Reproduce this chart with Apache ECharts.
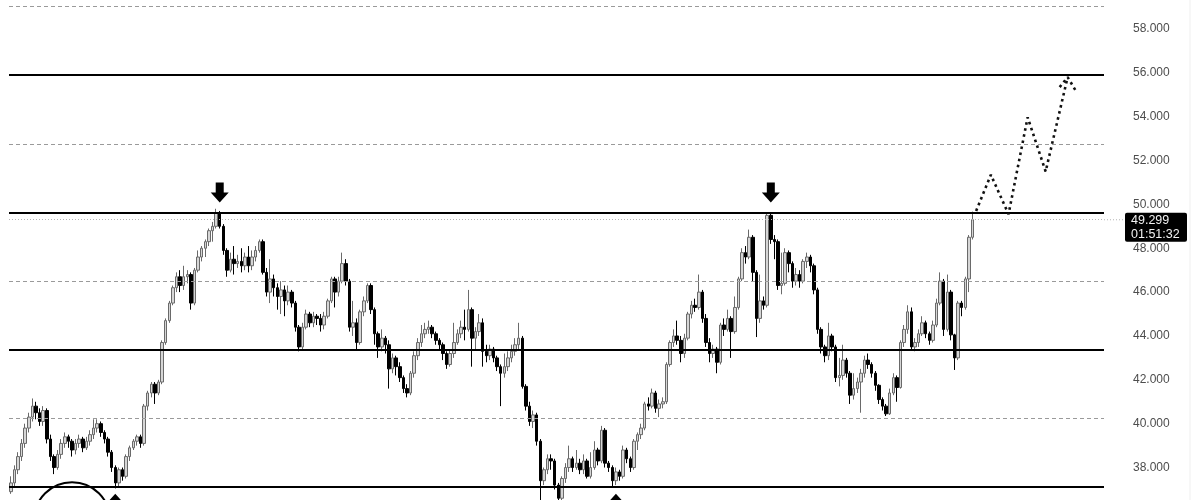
<!DOCTYPE html>
<html>
<head>
<meta charset="utf-8">
<script src="https://cdn.jsdelivr.net/npm/echarts@6/dist/echarts.min.js"></script>
<style>
html,body{margin:0;padding:0;background:#fff;}
#chart{width:1200px;height:500px;}
</style>
</head>
<body>
<div id="chart"></div>
<script>
// ---- data: [open, close, low, high] per candle ----
const candles = [
[36.9,37.3,36.8,37.6],[37.3,37.9,37.1,38.1],[37.9,38.5,37.7,38.7],[38.5,39.1,38.3,39.3],[39.1,39.8,38.9,40.0],
[39.8,40.3,39.6,40.5],[40.3,40.8,40.1,41.15],[40.8,40.5,40.2,41.0],[40.5,40.1,39.9,40.7],[40.1,40.6,39.9,40.8],
[40.6,39.3,39.1,40.7],[39.3,38.5,38.3,39.5],[38.5,38.0,37.7,38.6],[38.0,38.6,37.9,38.8],[38.6,39.1,38.4,39.3],
[39.1,39.4,38.9,39.6],[39.4,39.2,38.9,39.5],[39.2,38.8,38.5,39.3],[38.8,39.1,38.6,39.3],[39.1,39.3,38.9,39.5],
[39.3,38.9,38.7,39.4],[38.9,39.2,38.8,39.4],[39.2,39.5,39.0,39.7],[39.5,39.8,39.3,40.2],[39.8,40.0,39.6,40.2],
[40.0,39.6,39.4,40.1],[39.6,39.3,39.1,39.7],[39.3,38.7,38.5,39.4],[38.7,38.0,37.8,38.8],[38.0,37.3,37.05,38.1],
[37.3,37.9,37.1,38.0],[37.9,37.6,37.4,38.0],[37.6,38.5,37.5,38.6],[38.5,38.9,38.3,39.0],[38.9,39.2,38.8,39.3],
[39.2,39.4,39.0,39.5],[39.4,39.1,38.9,39.5],[39.1,40.8,39.0,40.9],[40.8,41.4,40.6,41.5],[41.4,41.8,41.2,41.9],
[41.8,41.4,40.9,41.9],[41.4,41.9,41.3,42.0],[41.9,43.7,41.8,43.8],[43.7,44.7,43.6,44.8],[44.7,45.5,44.6,45.6],
[45.5,46.2,45.4,46.3],[46.2,46.7,46.0,46.9],[46.7,46.3,46.0,47.0],[46.3,46.7,46.1,47.2],[46.7,46.8,46.4,47.0],
[46.8,45.5,45.2,46.9],[45.5,47.0,45.4,47.1],[47.0,47.6,46.9,47.9],[47.6,48.0,47.4,48.1],[48.0,48.3,47.6,48.4],
[48.3,48.8,48.1,48.9],[48.8,49.0,48.3,49.2],[49.0,49.6,48.9,49.8],[49.6,49.0,48.9,49.7],[49.0,47.9,47.7,49.1],
[47.9,47.0,46.7,48.0],[47.0,47.5,46.9,47.8],[47.5,47.3,46.8,48.1],[47.3,47.4,47.1,47.7],[47.4,47.2,46.9,48.0],
[47.2,47.6,47.0,47.8],[47.6,47.2,46.9,48.1],[47.2,47.6,47.0,47.9],[47.6,47.9,47.4,48.1],[47.9,48.3,47.8,48.4],
[48.3,46.9,46.8,48.4],[46.9,46.0,45.8,47.1],[46.0,46.6,45.5,47.5],[46.6,46.2,45.8,46.8],[46.2,45.8,45.2,46.4],
[45.8,46.1,45.0,46.5],[46.1,45.6,44.9,46.3],[45.6,46.0,45.4,46.3],[46.0,45.5,45.3,46.1],[45.5,44.4,44.2,45.6],
[44.4,43.5,43.3,44.5],[43.5,44.4,43.4,44.6],[44.4,45.0,44.3,45.2],[45.0,44.6,44.4,45.1],[44.6,44.9,44.4,45.1],
[44.9,44.8,44.5,45.0],[44.8,44.5,44.2,45.0],[44.5,44.9,44.3,45.1],[44.9,45.6,44.8,45.7],[45.6,46.6,45.5,46.7],
[46.6,46.0,45.3,46.7],[46.0,46.5,45.8,46.7],[46.5,47.3,46.4,47.8],[47.3,46.5,46.3,47.5],[46.5,44.4,44.2,46.6],
[44.4,44.6,44.0,45.6],[44.6,43.7,43.4,44.8],[43.7,45.1,43.6,45.2],[45.1,45.6,44.9,45.8],[45.6,46.3,45.5,46.4],
[46.3,45.2,45.0,46.4],[45.2,44.1,43.6,45.3],[44.1,43.5,43.0,44.2],[43.5,43.9,43.3,44.3],[43.9,43.6,43.2,44.0],
[43.6,42.5,41.6,43.8],[42.5,43.0,42.3,43.2],[43.0,42.6,42.2,43.1],[42.6,42.1,41.9,42.8],[42.1,41.6,41.4,42.2],
[41.6,41.4,41.2,41.8],[41.4,42.3,41.3,42.4],[42.3,43.1,42.1,43.3],[43.1,43.7,42.9,43.9],[43.7,44.1,43.5,44.5],
[44.1,44.3,43.9,44.6],[44.3,44.4,44.1,44.7],[44.4,44.1,43.9,44.5],[44.1,43.8,43.6,44.2],[43.8,43.6,43.4,43.9],
[43.6,43.2,42.9,43.7],[43.2,42.7,42.5,43.3],[42.7,43.2,42.6,43.4],[43.2,43.7,43.0,44.6],[43.7,44.1,43.6,44.3],
[44.1,44.4,43.9,44.7],[44.4,44.3,43.8,45.2],[44.3,45.2,44.2,46.1],[45.2,43.9,42.6,45.3],[43.9,44.2,43.4,44.4],
[44.2,44.6,44.0,45.0],[44.6,43.3,42.6,44.8],[43.3,43.1,42.8,43.6],[43.1,43.4,42.9,43.6],[43.4,43.0,42.8,43.5],
[43.0,42.6,42.4,43.1],[42.6,42.3,40.8,42.7],[42.3,42.6,42.1,43.2],[42.6,43.0,42.4,43.3],[43.0,43.3,42.8,43.6],
[43.3,43.6,43.1,43.9],[43.6,43.9,43.4,44.6],[43.9,41.7,41.6,44.0],[41.7,40.8,40.6,41.8],[40.8,40.1,39.9,41.0],
[40.1,40.4,39.8,40.6],[40.4,39.2,39.0,40.5],[39.2,37.4,36.5,39.3],[37.4,37.9,37.2,38.0],[37.9,38.4,37.7,38.6],
[38.4,38.3,37.9,38.6],[38.3,37.2,37.0,38.4],[37.2,36.6,36.3,37.3],[36.6,37.5,36.4,37.6],[37.5,38.0,37.3,38.2],
[38.0,38.4,37.8,39.0],[38.4,38.0,37.8,38.5],[38.0,38.2,37.9,38.8],[38.2,37.9,37.7,38.4],[37.9,38.3,37.7,38.6],
[38.3,37.6,37.5,38.4],[37.6,38.0,37.5,38.7],[38.0,38.8,37.9,39.2],[38.8,38.3,38.1,38.9],[38.3,39.7,38.2,39.9],
[39.7,38.2,38.0,39.8],[38.2,38.0,37.8,38.3],[38.0,37.4,37.1,38.1],[37.4,37.8,37.2,38.0],[37.8,37.6,37.4,37.9],
[37.6,38.8,37.5,39.0],[38.8,38.4,38.2,38.9],[38.4,38.0,37.8,38.5],[38.0,39.2,37.9,39.3],[39.2,39.5,38.8,39.6],
[39.5,39.8,39.3,40.0],[39.8,40.9,39.7,41.0],[40.9,40.8,40.6,41.2],[40.8,41.4,40.7,41.6],[41.4,40.7,40.5,41.5],
[40.7,40.9,40.3,41.1],[40.9,41.0,40.7,41.2],[41.0,42.7,40.9,42.8],[42.7,43.7,42.6,43.8],[43.7,44.0,43.5,44.3],
[44.0,43.8,43.6,44.7],[43.8,43.2,42.8,44.0],[43.2,43.9,43.0,44.1],[43.9,45.0,43.8,45.1],[45.0,45.4,44.8,45.6],
[45.4,45.3,45.1,45.7],[45.3,46.0,45.2,46.8],[46.0,44.8,44.6,46.1],[44.8,43.7,43.5,45.0],[43.7,43.2,42.8,43.9],
[43.2,43.4,43.0,43.6],[43.4,42.8,42.3,43.5],[42.8,44.5,42.7,44.6],[44.5,44.3,44.0,44.8],[44.3,44.8,44.2,45.2],
[44.8,44.2,43.0,44.9],[44.2,45.3,44.1,45.8],[45.3,46.6,45.2,46.7],[46.6,47.8,46.5,48.0],[47.8,47.6,47.3,48.1],
[47.6,48.5,47.5,48.85],[48.5,46.9,46.5,48.6],[46.9,44.8,43.95,47.0],[44.8,45.6,44.6,46.8],[45.6,45.4,45.2,45.8],
[45.4,49.5,45.3,49.65],[49.5,48.4,48.2,49.6],[48.4,48.3,47.5,48.6],[48.3,46.3,46.1,48.4],[46.3,46.4,45.9,47.8],
[46.4,47.8,46.3,48.0],[47.8,47.3,46.9,47.9],[47.3,46.5,46.2,47.4],[46.5,46.8,46.3,47.1],[46.8,46.5,46.2,47.0],
[46.5,47.4,46.4,47.5],[47.4,47.6,47.1,47.8],[47.6,47.2,46.9,47.7],[47.2,46.1,45.9,47.3],[46.1,44.3,44.1,46.2],
[44.3,43.5,43.2,44.4],[43.5,43.1,42.8,43.6],[43.1,44.0,42.9,44.6],[44.0,43.5,43.3,44.1],[43.5,42.1,41.9,43.6],
[42.1,42.2,41.7,43.0],[42.2,42.9,42.0,43.6],[42.9,42.3,42.1,43.0],[42.3,41.3,40.9,42.4],[41.3,41.6,41.1,42.3],
[41.6,41.9,41.4,42.1],[41.9,42.3,40.5,42.5],[42.3,42.9,42.1,43.1],[42.9,42.7,42.5,43.2],[42.7,42.3,42.1,42.8],
[42.3,41.75,41.5,42.4],[41.75,41.1,40.9,41.8],[41.1,40.8,40.6,41.2],[40.8,40.45,40.35,40.9],[40.45,41.4,40.4,41.6],
[41.4,42.1,41.3,42.3],[42.1,41.65,41.0,42.2],[41.65,43.7,41.6,43.8],[43.7,44.3,43.5,44.5],[44.3,45.1,44.1,45.4],
[45.1,43.5,43.4,45.3],[43.5,43.7,43.3,43.9],[43.7,44.1,43.5,44.3],[44.1,44.6,44.0,44.9],[44.6,44.1,43.9,44.7],
[44.1,43.8,43.6,44.2],[43.8,44.5,43.7,44.7],[44.5,45.5,44.4,45.7],[45.5,46.5,45.4,46.9],[46.5,44.3,44.0,46.6],
[44.3,46.0,44.2,46.8],[46.0,44.05,43.8,46.1],[44.05,43.0,42.45,44.1],[43.0,45.5,42.9,45.6],[45.5,45.3,44.9,45.6],
[45.3,46.6,45.2,46.7],[46.6,48.5,46.0,48.6],[48.5,49.3,48.4,49.67]
];
const slotCount = 304;                       // time slots incl. empty future area
const categories = Array.from({length: slotCount}, (_, i) => 'T' + i);

const solidLevels  = [37.12, 43.36, 49.61, 55.90];
const dashedLevels = [40.25, 46.51, 52.76, 59.05];
const lastPrice = 49.299;
const lastTime  = '01:51:32';
const yTicks = [38, 40, 42, 44, 46, 48, 50, 52, 54, 56, 58];

// projected path [slot, price]
const projection = [[268, 49.70], [272.1, 51.35], [277.0, 49.55], [282.3, 53.97], [287.3, 51.50], [293.4, 55.80]];
const projectionHead = [[291.2, 55.35], [293.4, 55.80], [295.6, 55.20]];

// annotations [slot, price]
const downArrows = [[58, 50.54], [211, 50.54]];
const upArrows   = [[29, 36.35], [168, 36.35]];
const circleMark = [17, 35.6];
const circleRadius = 38;

const DOWN = 'path://M5,0 L13,0 L13,10 L18,10 L9,20 L0,10 L5,10 Z';

const chart = echarts.init(document.getElementById('chart'), null, {renderer: 'canvas'});
const FONT = 'Liberation Sans';

const markLines = [];
solidLevels.forEach(v => markLines.push({yAxis: v, lineStyle: {color: '#000', width: 2, type: 'solid'}}));
dashedLevels.forEach(v => markLines.push({yAxis: v, lineStyle: {color: '#9a9a9a', width: 1, type: [4, 3]}}));
markLines.push({yAxis: lastPrice, lineStyle: {color: '#b5b5b5', width: 1, type: [1, 2]}});

const markPoints = [];
downArrows.forEach(p => markPoints.push({coord: p, symbol: DOWN, symbolSize: [18, 20], itemStyle: {color: '#000'}}));

chart.setOption({
  animation: false,
  backgroundColor: '#fff',
  grid: {left: 9, right: 96, top: 0, bottom: 0},
  xAxis: [
    {type: 'category', data: categories, boundaryGap: true, show: false},
    {type: 'value', min: -0.5, max: slotCount - 0.5, show: false}
  ],
  yAxis: {
    type: 'value', position: 'right', min: 36.52, max: 59.32, scale: true,
    splitLine: {show: false}, axisLine: {show: false}, axisTick: {show: false},
    axisLabel: {
      customValues: yTicks, margin: 29, color: '#4d4d4d', fontSize: 12, fontFamily: FONT,
      formatter: v => v.toFixed(3)
    }
  },
  series: [
    {
      type: 'candlestick', data: candles, barWidth: 3, xAxisIndex: 0,
      itemStyle: {color: '#d6d6d6', borderColor: '#6a6a6a', color0: '#000000', borderColor0: '#000000', borderWidth: 1},
      markLine: {silent: true, symbol: ['none', 'none'], label: {show: false}, data: markLines, animation: false}
    },
    {
      type: 'line', xAxisIndex: 1, data: projection, symbol: 'none', z: 5,
      lineStyle: {color: '#111', width: 2.6, type: [2.6, 3.6]},
      markPoint: {silent: true, label: {show: false}, data: markPoints, animation: false}
    },
    {
      type: 'line', xAxisIndex: 1, data: projectionHead, symbol: 'none', z: 5,
      lineStyle: {color: '#111', width: 2.6, type: [2.6, 3.6]}
    }
  ]
});

const toPix = p => chart.convertToPixel({xAxisIndex: 1, yAxisIndex: 0}, p);
const yPix = chart.convertToPixel({yAxisIndex: 0}, lastPrice);
const gridRight = 1200 - 96;
const graphics = [
  {type: 'line', shape: {x1: gridRight, y1: yPix, x2: 1125, y2: yPix},
   style: {stroke: '#b5b5b5', lineWidth: 1, lineDash: [1, 2]}, silent: true},
  {type: 'rect', shape: {x: 1125, y: yPix - 7, width: 62, height: 29, r: 2},
   style: {fill: '#000'}, silent: true},
  {type: 'text', x: 1131, y: yPix - 6,
   style: {text: lastPrice.toFixed(3) + '\n' + lastTime, fill: '#f2f2f2', font: '12.5px ' + FONT, lineHeight: 14}, silent: true},
  {type: 'line', shape: {x1: 1190, y1: 0, x2: 1190, y2: 500}, style: {stroke: '#efefef', lineWidth: 1}, silent: true}
];
upArrows.forEach(p => {
  const [cx, cy] = toPix(p);
  graphics.push({type: 'polygon', x: cx, y: cy, silent: true, z: 10,
    shape: {points: [[0, -10], [9, 0], [4, 0], [4, 10], [-4, 10], [-4, 0], [-9, 0]]},
    style: {fill: '#000'}});
});
{
  const [cx, cy] = toPix(circleMark);
  graphics.push({type: 'circle', silent: true, z: 10, shape: {cx: cx, cy: cy, r: circleRadius},
    style: {fill: 'none', stroke: '#000', lineWidth: 2}});
}
chart.setOption({graphic: graphics});
</script>
</body>
</html>
